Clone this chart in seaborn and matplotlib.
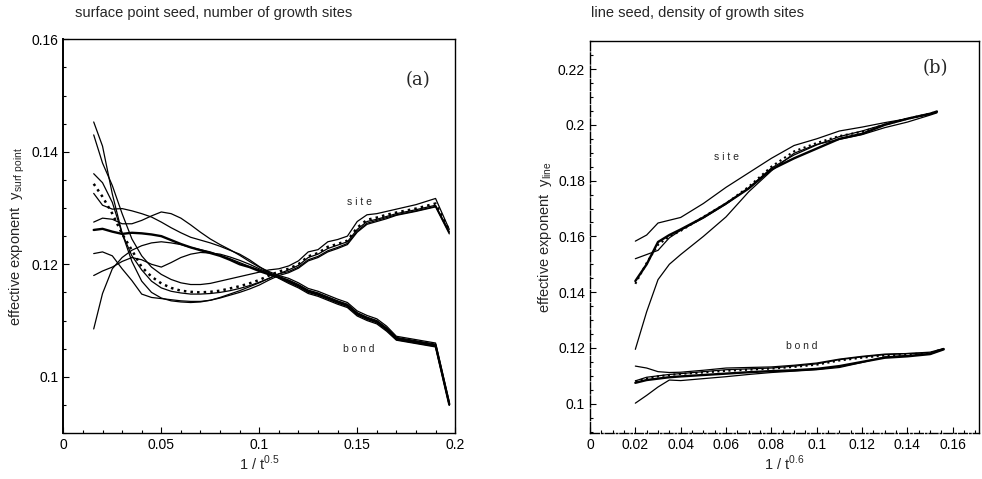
import numpy as np
import pandas as pd
import seaborn as sns
import matplotlib
matplotlib.use("Agg")
import matplotlib.pyplot as plt
from matplotlib.ticker import MultipleLocator

sns.set_style("ticks")
plt.rcParams['font.family'] = ['Liberation Sans', 'DejaVu Sans']
plt.rcParams['mathtext.fontset'] = 'custom'
plt.rcParams['mathtext.rm'] = 'Liberation Sans'

# ---------------- panel (a) data ----------------
xa = [0.0155, 0.02, 0.025, 0.03, 0.035, 0.04, 0.045, 0.05, 0.055, 0.06,
      0.065, 0.07, 0.075, 0.08, 0.085, 0.09, 0.095, 0.1, 0.105, 0.11,
      0.115, 0.12, 0.125, 0.13, 0.135, 0.14, 0.145, 0.15, 0.155, 0.16,
      0.165, 0.17, 0.18, 0.19, 0.197]

site_a1 = [0.1453, 0.1410, 0.1325, 0.1255, 0.1215, 0.1190, 0.1170, 0.1158, 0.1152, 0.1149,
           0.1147, 0.1147, 0.1148, 0.1150, 0.1153, 0.1157, 0.1162, 0.1168, 0.1175, 0.1183,
           0.1190, 0.1198, 0.1212, 0.1218, 0.1228, 0.1234, 0.1240, 0.1262, 0.1276, 0.1280,
           0.1285, 0.1290, 0.1297, 0.1305, 0.1258]
site_a2 = [0.1430, 0.1380, 0.1340, 0.1290, 0.1245, 0.1215, 0.1195, 0.1182, 0.1173, 0.1167,
           0.1164, 0.1164, 0.1166, 0.1170, 0.1174, 0.1178, 0.1182, 0.1186, 0.1190, 0.1192,
           0.1197, 0.1206, 0.1222, 0.1226, 0.1240, 0.1244, 0.1250, 0.1276, 0.1288, 0.1290,
           0.1294, 0.1298, 0.1306, 0.1317, 0.1262]
site_a3 = [0.1343, 0.1320, 0.1290, 0.1254, 0.1225, 0.1195, 0.1178, 0.1166, 0.1158, 0.1153,
           0.1151, 0.1150, 0.1151, 0.1153, 0.1157, 0.1161, 0.1166, 0.1172, 0.1180, 0.1187,
           0.1192, 0.1200, 0.1214, 0.1220, 0.1231, 0.1236, 0.1242, 0.1265, 0.1279, 0.1283,
           0.1288, 0.1292, 0.1299, 0.1308, 0.1260]
site_a4 = [0.1361, 0.1345, 0.1310, 0.1255, 0.1205, 0.1170, 0.1150, 0.1140, 0.1135, 0.1133,
           0.1132, 0.1133, 0.1136, 0.1141, 0.1147, 0.1153, 0.1160, 0.1167, 0.1175, 0.1183,
           0.1187, 0.1195, 0.1208, 0.1214, 0.1224, 0.1230, 0.1237, 0.1259, 0.1273, 0.1278,
           0.1283, 0.1288, 0.1295, 0.1303, 0.1256]
site_a5 = [0.1219, 0.1222, 0.1215, 0.1192, 0.1171, 0.1147, 0.1141, 0.1139, 0.1137, 0.1135,
           0.1134, 0.1134, 0.1136, 0.1140, 0.1145, 0.1150, 0.1156, 0.1163, 0.1172, 0.1180,
           0.1185, 0.1193, 0.1206, 0.1212, 0.1222, 0.1228, 0.1235, 0.1257, 0.1271, 0.1276,
           0.1281, 0.1287, 0.1294, 0.1302, 0.1254]

bond_a1 = [0.1261, 0.1263, 0.1258, 0.1254, 0.1256, 0.1255, 0.1253, 0.1250, 0.1243, 0.1236,
           0.1230, 0.1225, 0.1220, 0.1215, 0.1208, 0.1200, 0.1195, 0.1188, 0.1182, 0.1177,
           0.1170, 0.1162, 0.1152, 0.1147, 0.1140, 0.1133, 0.1127, 0.1112, 0.1104, 0.1098,
           0.1085, 0.1068, 0.1062, 0.1056, 0.0951]
bond_a2 = [0.1275, 0.1282, 0.1280, 0.1272, 0.1272, 0.1278, 0.1286, 0.1293, 0.1290, 0.1282,
           0.1270, 0.1257, 0.1245, 0.1235, 0.1226, 0.1216, 0.1205, 0.1195, 0.1187, 0.1180,
           0.1175, 0.1167, 0.1157, 0.1152, 0.1145, 0.1138, 0.1132, 0.1117, 0.1109, 0.1103,
           0.1090, 0.1072, 0.1066, 0.1060, 0.0955]
bond_a3 = [0.1326, 0.1305, 0.1298, 0.1299, 0.1295, 0.1290, 0.1284, 0.1275, 0.1265, 0.1256,
           0.1248, 0.1243, 0.1238, 0.1232, 0.1225, 0.1218, 0.1208, 0.1196, 0.1185, 0.1175,
           0.1166, 0.1158, 0.1148, 0.1143, 0.1136, 0.1129, 0.1123, 0.1108, 0.1100, 0.1094,
           0.1081, 0.1065, 0.1059, 0.1053, 0.0949]
bond_a4 = [0.1180, 0.1188, 0.1195, 0.1205, 0.1212, 0.1208, 0.1200, 0.1195, 0.1203, 0.1212,
           0.1218, 0.1221, 0.1220, 0.1218, 0.1213, 0.1207, 0.1200, 0.1192, 0.1185, 0.1178,
           0.1172, 0.1164, 0.1154, 0.1149, 0.1142, 0.1135, 0.1129, 0.1114, 0.1106, 0.1100,
           0.1087, 0.1070, 0.1064, 0.1058, 0.0953]
bond_a5 = [0.1085, 0.1148, 0.1192, 0.1212, 0.1225, 0.1233, 0.1238, 0.1240, 0.1238, 0.1235,
           0.1230, 0.1226, 0.1222, 0.1216, 0.1210, 0.1203, 0.1196, 0.1190, 0.1183, 0.1176,
           0.1168, 0.1160, 0.1150, 0.1145, 0.1138, 0.1131, 0.1125, 0.1110, 0.1102, 0.1096,
           0.1083, 0.1066, 0.1060, 0.1054, 0.0950]

# ---------------- panel (b) data ----------------
xb_site = [0.02, 0.025, 0.03, 0.035, 0.04, 0.05, 0.06, 0.07, 0.08, 0.09,
           0.1, 0.11, 0.12, 0.13, 0.14, 0.15, 0.153]
site_b1 = [0.1583, 0.1605, 0.1648, 0.1658, 0.1668, 0.1718, 0.1776, 0.1828, 0.1880, 0.1926,
           0.1950, 0.1978, 0.1992, 0.2008, 0.2022, 0.2038, 0.2045]
site_b2 = [0.1440, 0.1500, 0.1580, 0.1605, 0.1625, 0.1668, 0.1718, 0.1772, 0.1840, 0.1880,
           0.1915, 0.1950, 0.1968, 0.2000, 0.2022, 0.2040, 0.2048]
site_b3 = [0.1520, 0.1535, 0.1550, 0.1595, 0.1622, 0.1666, 0.1716, 0.1774, 0.1845, 0.1892,
           0.1928, 0.1958, 0.1978, 0.2002, 0.2022, 0.2040, 0.2046]
site_b4 = [0.1430, 0.1505, 0.1570, 0.1600, 0.1620, 0.1670, 0.1718, 0.1778, 0.1850, 0.1905,
           0.1935, 0.1960, 0.1975, 0.2001, 0.2022, 0.2040, 0.2047]
site_b5 = [0.1195, 0.1330, 0.1445, 0.1500, 0.1535, 0.1600, 0.1670, 0.1760, 0.1835, 0.1898,
           0.1930, 0.1948, 0.1965, 0.1990, 0.2010, 0.2035, 0.2043]

xb_bond = [0.02, 0.025, 0.03, 0.035, 0.04, 0.05, 0.06, 0.07, 0.08, 0.09,
           0.1, 0.11, 0.12, 0.13, 0.14, 0.15, 0.156]
bond_b1 = [0.1075, 0.1085, 0.1090, 0.1095, 0.1098, 0.1103, 0.1108, 0.1113, 0.1117, 0.1120,
           0.1125, 0.1135, 0.1150, 0.1165, 0.1170, 0.1178, 0.1195]
bond_b2 = [0.1135, 0.1128, 0.1115, 0.1112, 0.1113, 0.1120, 0.1128, 0.1130, 0.1132, 0.1138,
           0.1146, 0.1160, 0.1170, 0.1178, 0.1180, 0.1182, 0.1198]
bond_b3 = [0.1002, 0.1030, 0.1060, 0.1085, 0.1083, 0.1090, 0.1097, 0.1105, 0.1112, 0.1117,
           0.1122, 0.1130, 0.1148, 0.1168, 0.1173, 0.1178, 0.1196]
bond_b4 = [0.1080, 0.1090, 0.1098, 0.1103, 0.1107, 0.1112, 0.1118, 0.1122, 0.1126, 0.1132,
           0.1140, 0.1155, 0.1165, 0.1173, 0.1177, 0.1182, 0.1197]
bond_b5 = [0.1082, 0.1095, 0.1100, 0.1105, 0.1108, 0.1115, 0.1122, 0.1125, 0.1128, 0.1135,
           0.1143, 0.1158, 0.1168, 0.1176, 0.1180, 0.1185, 0.1198]

xticks_a = [0, 0.05, 0.1, 0.15, 0.2]
xticklabels_a = ["0", "0.05", "0.1", "0.15", "0.2"]
yticks_a = [0.1, 0.12, 0.14, 0.16]
yticklabels_a = ["0.1", "0.12", "0.14", "0.16"]
xticks_b = [0, 0.02, 0.04, 0.06, 0.08, 0.1, 0.12, 0.14, 0.16]
xticklabels_b = ["0", "0.02", "0.04", "0.06", "0.08", "0.1", "0.12", "0.14", "0.16"]
yticks_b = [0.1, 0.12, 0.14, 0.16, 0.18, 0.2, 0.22]
yticklabels_b = ["0.1", "0.12", "0.14", "0.16", "0.18", "0.2", "0.22"]

fig = plt.figure(figsize=(9.82, 4.79), dpi=100)
axa = fig.add_axes([0.0645, 0.096, 0.399, 0.822])
axb = fig.add_axes([0.6008, 0.096, 0.396, 0.818])

def draw(ax, x, y, lw=0.9, ls='-'):
    sns.lineplot(x=x, y=y, ax=ax, color='black', lw=lw, linestyle=ls,
                 estimator=None, sort=False)

# panel a
for s in [site_a1, site_a2, site_a4, site_a5]:
    draw(axa, xa, s, 0.9)
draw(axa, xa, site_a3, 1.8, ':')
for b in [bond_a2, bond_a3, bond_a4, bond_a5]:
    draw(axa, xa, b, 0.9)
draw(axa, xa, bond_a1, 1.7)

# panel b
for s in [site_b1, site_b3, site_b5]:
    draw(axb, xb_site, s, 0.9)
draw(axb, xb_site, site_b2, 1.7)
draw(axb, xb_site, site_b4, 1.5, ':')
for b in [bond_b2, bond_b3, bond_b5]:
    draw(axb, xb_bond, b, 0.9)
draw(axb, xb_bond, bond_b1, 1.7)
draw(axb, xb_bond, bond_b4, 1.5, ':')

for ax in (axa, axb):
    ax.tick_params(direction='in', which='both', top=False, right=False,
                   labelsize=10, colors='black', length=4, width=0.8)
    ax.tick_params(which='minor', length=2)
    for sp in ax.spines.values():
        sp.set_visible(True)
        sp.set_color('black')
        sp.set_linewidth(1.0)

axa.set_xlim(0, 0.2)
axa.set_ylim(0.09, 0.16)
axa.set_xticks(xticks_a)
axa.set_xticklabels(xticklabels_a)
axa.set_yticks(yticks_a)
axa.set_yticklabels(yticklabels_a)
axa.xaxis.set_minor_locator(MultipleLocator(0.01))
axa.yaxis.set_minor_locator(MultipleLocator(0.005))
axa.spines['left'].set_linewidth(1.4)
axa.set_xlabel(r"1 / t$^{0.5}$", fontsize=10.5, labelpad=1)
axa.set_ylabel(r"effective exponent  y$_{\mathregular{surf\ point}}$", fontsize=10.5, labelpad=3)
axa.text(0.181, 0.1528, "(a)", family='DejaVu Serif', fontsize=13, ha='center', va='center')
axa.text(0.151, 0.131, "s i t e", fontsize=7.5, ha='center', va='center')
axa.text(0.151, 0.105, "b o n d", fontsize=7.5, ha='center', va='center')

axb.set_xlim(0, 0.1715)
axb.set_ylim(0.0895, 0.23)
axb.set_xticks(xticks_b)
axb.set_xticklabels(xticklabels_b)
axb.set_yticks(yticks_b)
axb.set_yticklabels(yticklabels_b)
axb.xaxis.set_minor_locator(MultipleLocator(0.005))
axb.yaxis.set_minor_locator(MultipleLocator(0.005))
axb.spines['bottom'].set_linestyle('-.')
axb.spines['left'].set_linestyle((0, (8, 1.5)))
axb.set_xlabel(r"1 / t$^{0.6}$", fontsize=10.5, labelpad=1)
axb.set_ylabel(r"effective exponent  y$_{\mathregular{line}}$", fontsize=10.5, labelpad=3)
axb.text(0.1525, 0.2202, "(b)", family='DejaVu Serif', fontsize=13, ha='center', va='center')
axb.text(0.060, 0.1886, "s i t e", fontsize=7.5, ha='center', va='center')
axb.text(0.0936, 0.1207, "b o n d", fontsize=7.5, ha='center', va='center')

fig.text(0.0765, 0.972, "surface point seed, number of growth sites", fontsize=10.5, ha='left', va='center')
fig.text(0.602, 0.972, "line seed, density of growth sites", fontsize=10.5, ha='left', va='center')

fig.savefig("out.png", dpi=100)
